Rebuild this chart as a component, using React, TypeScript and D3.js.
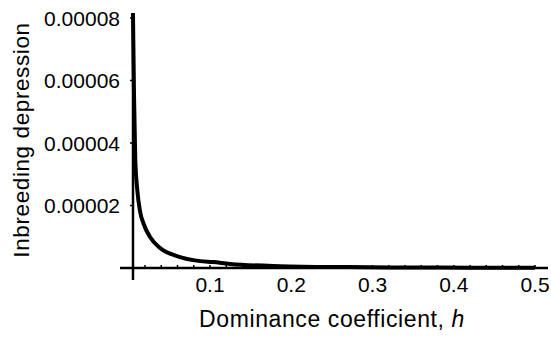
import React, { useRef, useEffect } from "react";
import * as d3 from "d3";

// dominance coefficient h
const hValues = [0.0052, 0.0065, 0.008, 0.0105, 0.014, 0.0185, 0.0262, 0.0385, 0.0594, 0.0877, 0.1037, 0.1246, 0.186, 0.27, 0.35, 0.42, 0.5];
// inbreeding depression
const depValues = [8.16e-5, 5.5e-5, 3.5e-5, 2.5e-5, 1.8e-5, 1.4e-5, 9.9e-6, 6.4e-6, 3.8e-6, 2.2e-6, 1.9e-6, 1.3e-6, 6e-7, 3e-7, 1.5e-7, 1e-7, 8e-8];

const xTicks = [0.1, 0.2, 0.3, 0.4, 0.5];
const xMinorTicks = d3.range(0.02, 0.5001, 0.02);
const yTicks = [0.00002, 0.00004, 0.00006, 0.00008];
const yTickLabels = ["0.00002", "0.00004", "0.00006", "0.00008"];

export default function App() {
    const ref = useRef<SVGSVGElement>(null);

    useEffect(() => {
        const width = 551, height = 337;
        const svg = d3.select(ref.current);
        svg.selectAll("*").remove();
        svg.attr("width", width).attr("height", height);

        const x = d3.scaleLinear().domain([0, 0.5]).range([128.75, 535]);
        const y = d3.scaleLinear().domain([0, 0.00008]).range([268, 18]);
        const x0 = 133;
        const font = "'Liberation Sans', Arial, Helvetica, sans-serif";

        const data = hValues.map((h, i) => ({ h, v: depValues[i] }));

        // curve
        const line = d3.line<{ h: number; v: number }>()
            .x(d => x(d.h))
            .y(d => y(d.v))
            .curve(d3.curveMonotoneX);

        svg.append("path")
            .datum(data)
            .attr("d", line)
            .attr("fill", "none")
            .attr("stroke", "#000")
            .attr("stroke-width", 4)
            .attr("stroke-linejoin", "round");

        // x axis
        svg.append("line")
            .attr("x1", 120).attr("x2", 548)
            .attr("y1", y(0)).attr("y2", y(0))
            .attr("stroke", "#000").attr("stroke-width", 2.5);

        svg.append("g").selectAll("line")
            .data(xMinorTicks)
            .enter()
            .append("line")
            .attr("x1", d => x(d)).attr("x2", d => x(d))
            .attr("y1", y(0) - 3).attr("y2", y(0))
            .attr("stroke", "#000").attr("stroke-width", 1.5);

        svg.append("g").selectAll("text")
            .data(xTicks)
            .enter()
            .append("text")
            .attr("x", d => x(d))
            .attr("y", 292)
            .attr("text-anchor", "middle")
            .attr("font-family", font)
            .attr("font-size", 21)
            .text(d => d.toFixed(1));

        // y axis
        svg.append("line")
            .attr("x1", x0).attr("x2", x0)
            .attr("y1", 13).attr("y2", 280)
            .attr("stroke", "#000").attr("stroke-width", 2.5);

        svg.append("g").selectAll("line")
            .data(yTicks)
            .enter()
            .append("line")
            .attr("x1", x0 - 3).attr("x2", x0)
            .attr("y1", d => y(d)).attr("y2", d => y(d))
            .attr("stroke", "#000").attr("stroke-width", 1.5);

        svg.append("g").selectAll("text")
            .data(yTicks)
            .enter()
            .append("text")
            .attr("x", 120)
            .attr("y", d => y(d))
            .attr("dy", "0.36em")
            .attr("text-anchor", "end")
            .attr("font-family", font)
            .attr("font-size", 21)
            .text((d, i) => yTickLabels[i]);

        // axis labels
        const xl = svg.append("text")
            .attr("x", 332)
            .attr("y", 327)
            .attr("text-anchor", "middle")
            .attr("font-family", font)
            .attr("font-size", 23)
            .attr("letter-spacing", 0.6);
        xl.append("tspan").text("Dominance coefficient, ");
        xl.append("tspan").attr("font-style", "italic").text("h");

        svg.append("text")
            .attr("transform", "translate(29,140) rotate(-90)")
            .attr("text-anchor", "middle")
            .attr("font-family", font)
            .attr("font-size", 22.5)
            .attr("letter-spacing", 0.6)
            .text("Inbreeding depression");
    }, []);

    return (
        <svg ref={ref} style={{ position: "absolute", left: 0, top: 0, background: "#fff" }}></svg>
    );
}
